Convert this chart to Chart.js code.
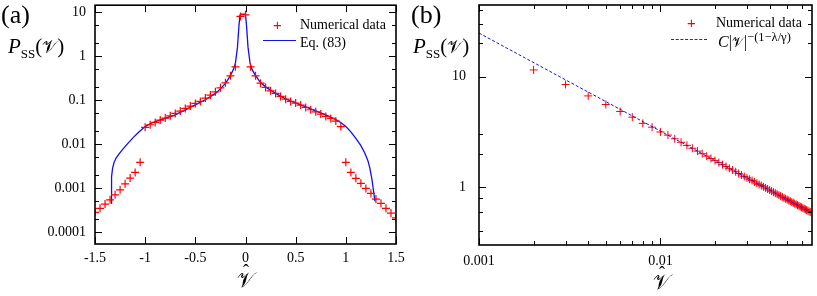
<!DOCTYPE html>
<html>
<head>
<meta charset="utf-8">
<script src="https://cdn.jsdelivr.net/npm/chart.js@4/dist/chart.umd.min.js"></script>
<style>
  html, body { margin: 0; padding: 0; background: #fff; }
  body { width: 817px; height: 296px; position: relative; overflow: hidden; font-family: "Liberation Serif", "DejaVu Serif", serif; color: #000; }
  canvas { position: absolute; top: 0; }
  #ca { left: 0; }
  #cb { left: 410px; }
  .t { position: absolute; white-space: nowrap; line-height: 1; }
  .lbl { font-size: 26px; }
  .yt { font-size: 21px; }
  .yt sub { font-size: 13px; vertical-align: -5px; }
  .cal { font-family: "DejaVu Serif", "DejaVu Sans", "Noto Sans", serif; font-style: normal; }
  .yt .cal { font-size: 18px; }
  .xt { font-size: 21px; }
  .hat { position: relative; display: inline-block; }
  .hat .h { position: absolute; left: 6px; top: -8px; font-size: 18px; font-family: "Liberation Serif", serif; }
  .leg { font-size: 14px; }
  .plus { position: absolute; color: #f00; font-family: "Liberation Sans", sans-serif; font-size: 15px; line-height: 1; }
</style>
</head>
<body>
<canvas id="ca" width="410" height="296"></canvas>
<canvas id="cb" width="407" height="296"></canvas>

<!-- panel labels and axis titles -->
<div class="t lbl" style="left:1px; top:2px;">(a)</div>
<div class="t lbl" style="left:411px; top:2px;">(b)</div>
<div class="t yt" style="left:8px; top:36px;"><i>P</i><sub>SS</sub>(<span class="cal">𝒱</span>)</div>
<div class="t yt" style="left:413px; top:36px;"><i>P</i><sub>SS</sub>(<span class="cal">𝒱</span>)</div>
<div class="t xt" style="left:237px; top:270px;"><span class="hat cal">𝒱<span class="h">ˆ</span></span></div>
<div class="t xt" style="left:653px; top:272px;"><span class="hat cal">𝒱<span class="h">ˆ</span></span></div>

<!-- legend (a) -->
<div class="plus" style="left:273px; top:17px;">+</div>
<div class="t leg" style="left:300px; top:18px;">Numerical data</div>
<div style="position:absolute; left:263px; top:40px; width:33px; border-top:1.5px solid #1010f0;"></div>
<div class="t leg" style="left:300px; top:36px;">Eq. (83)</div>

<!-- legend (b) -->
<div class="plus" style="left:687px; top:15px;">+</div>
<div class="t leg" style="left:716px; top:16px;">Numerical data</div>
<div style="position:absolute; left:671px; top:39px; width:36px; border-top:1px dashed #1a1aff;"></div>
<div class="t" style="left:718px; top:31px; font-size:16px;"><i>C</i>|<span class="cal" style="font-size:14px;">𝒱</span>|<sup style="font-size:12.5px;">−(1−λ/γ)</sup></div>

<script>
// ---------------- Panel (a) data ----------------
const aNumX = [-1.5,-1.45,-1.4,-1.35,-1.3,-1.25,-1.2,-1.15,-1.1,-1.05,
  -1.0,-0.95,-0.9,-0.85,-0.8,-0.75,-0.7,-0.65,-0.6,-0.55,-0.5,-0.45,-0.4,-0.35,-0.3,-0.25,-0.2,-0.15,-0.1,
  -0.05,0.0,
  0.05,0.1,0.15,0.2,0.25,0.3,0.35,0.4,0.45,0.5,0.55,0.6,0.65,0.7,0.75,0.8,0.85,0.9,0.95,
  1.0,1.05,1.1,1.15,1.2,1.25,1.3,1.35,1.4,1.45,1.5];
const aNumY = [2.8e-4,3.46e-4,4.33e-4,5.4e-4,7.0e-4,9.1e-4,1.25e-3,1.69e-3,2.27e-3,3.84e-3,
  0.024,0.0275,0.0311,0.0351,0.039,0.044,0.0499,0.0562,0.0648,0.0731,0.0841,0.0934,0.111,0.130,0.154,0.190,0.247,0.357,0.571,
  7.98,8.7,
  0.571,0.357,0.243,0.194,0.163,0.142,0.121,0.105,0.0933,0.0855,0.077,0.068,0.0603,0.0542,0.0481,0.0426,0.0384,0.0333,0.025,
  3.84e-3,2.27e-3,1.66e-3,1.28e-3,9.8e-4,7.6e-4,5.6e-4,4.5e-4,3.46e-4,2.7e-4,2.09e-4];
const aEqX = [-1.34,-1.337,-1.333,-1.325,-1.31,-1.29,-1.26,-1.22,-1.17,-1.12,-1.06,-1.0,-0.95,-0.9,-0.8,-0.7,-0.6,-0.5,-0.4,-0.3,-0.25,-0.2,-0.15,-0.12,-0.1,-0.08,-0.065,-0.055,-0.04,
  -0.01,0.0,0.01,0.025,0.045,0.065,0.1,0.15,0.2,0.3,0.4,0.5,0.6,0.7,0.8,0.9,0.95,1.0,1.05,1.1,1.15,1.19,1.22,1.24,1.26,1.275,1.29];
const aEqY = [4.5e-4,1.0e-3,1.8e-3,2.8e-3,3.8e-3,4.8e-3,6.0e-3,7.8e-3,0.0105,0.014,0.019,0.025,0.029,0.0325,0.0385,0.046,0.06,0.078,0.102,0.142,0.18,0.24,0.36,0.5,0.7,1.6,5,8.7,9.0,
  9.0,8.7,5,1.6,0.7,0.5,0.36,0.25,0.2,0.142,0.107,0.086,0.07,0.057,0.046,0.036,0.031,0.025,0.019,0.0135,0.0092,0.0062,0.0042,0.0028,0.0016,9e-4,5e-4];
const aXTicks = [-1.5,-1.0,-0.5,0,0.5,1.0,1.5];
const aYTicks = [0.0001,0.001,0.01,0.1,1,10];
const aYMinor = [0.00005,0.0002,0.0005,0.002,0.005,0.02,0.05,0.2,0.5,2,5];

// ---------------- Panel (b) data ----------------
const bNumX = [0.002,0.003,0.004,0.005,0.006,0.007,0.008,0.009,0.010,
  0.011,0.012,0.013,0.014,0.015,0.016,0.017,0.018,0.019,0.020,
  0.021,0.022,0.023,0.024,0.025,0.026,0.027,0.028,0.029,0.030,
  0.031,0.032,0.033,0.034,0.035,0.036,0.037,0.038,0.039,0.040,
  0.041,0.042,0.043,0.044,0.045,0.046,0.047,0.048,0.049,0.050,
  0.051,0.052,0.053,0.054,0.055,0.056,0.057,0.058,0.059,0.060,
  0.061,0.062,0.063,0.064,0.065,0.066,0.067];
const bNumY = [11.5,8.5,6.7,5.6,4.84,4.3,3.78,3.49,3.16,
  2.96,2.74,2.55,2.39,2.25,2.12,2.01,1.91,1.82,1.74,
  1.67,1.60,1.54,1.48,1.43,1.38,1.33,1.29,1.25,1.216,
  1.18,1.148,1.116,1.087,1.06,1.034,1.009,0.985,0.963,0.941,
  0.921,0.902,0.883,0.865,0.848,0.832,0.816,0.801,0.786,0.772,
  0.759,0.746,0.734,0.722,0.710,0.699,0.688,0.677,0.667,0.657,
  0.647,0.638,0.629,0.620,0.612,0.604,0.596];
const bFitX = [0.001,0.0685];
const bFitY = [24.8,0.584];
const bXTicks = [0.001,0.01];
const bXMinor = [0.002,0.003,0.004,0.005,0.006,0.007,0.008,0.009,0.02,0.03,0.04,0.05,0.06];
const bYTicks = [1,10];
const bYMinor = [0.4,0.6,0.8,2,3,20,30,40];

const RED = 'rgb(255,0,0)';
const BLUE = '#1010f0';
const FONT = { family: "'Liberation Serif', 'DejaVu Serif', serif", size: 14 };
const GRID = { display: false, drawTicks: false, tickLength: 0 };

const frameTicks = {
  id: 'frameTicks',
  afterDatasetsDraw(chart, args, o) {
    const { ctx, chartArea: a, scales } = chart;
    const xs = scales.x, ys = scales.y;
    ctx.save();
    ctx.strokeStyle = '#000';
    ctx.lineWidth = 1;
    const seg = (x1, y1, x2, y2) => { ctx.beginPath(); ctx.moveTo(x1, y1); ctx.lineTo(x2, y2); ctx.stroke(); };
    const xt = (vals, len) => vals.forEach(v => {
      const p = Math.round(xs.getPixelForValue(v)) + 0.5;
      if (p < a.left - 1 || p > a.right + 1) return;
      seg(p, a.bottom, p, a.bottom - len); seg(p, a.top, p, a.top + len);
    });
    const yt = (vals, len) => vals.forEach(v => {
      const p = Math.round(ys.getPixelForValue(v)) + 0.5;
      if (p < a.top - 1 || p > a.bottom + 1) return;
      seg(a.left, p, a.left + len, p); seg(a.right, p, a.right - len, p);
    });
    xt(o.xMajor, 7); xt(o.xMinor || [], 4);
    yt(o.yMajor, 7); yt(o.yMinor || [], 4);
    ctx.lineWidth = 1.6;
    ctx.strokeRect(a.left, a.top, a.right - a.left, a.bottom - a.top);
    ctx.restore();
  }
};

function fmt(v) { return String(v); }
function fixBox(w, h) {
  return s => {
    if (w !== null) s.width = w;
    if (h !== null) s.height = h;
    s.paddingLeft = 0; s.paddingRight = 0; s.paddingTop = 0; s.paddingBottom = 0;
  };
}

// ---------------- Chart (a) ----------------
new Chart(document.getElementById('ca'), {
  type: 'scatter',
  data: {
    datasets: [
      { label: 'Eq. (83)', data: aEqX.map((x, i) => ({ x, y: aEqY[i] })), showLine: true,
        borderColor: BLUE, borderWidth: 1.3, pointRadius: 0, tension: 0, order: 2 },
      { label: 'Numerical data', data: aNumX.map((x, i) => ({ x, y: aNumY[i] })),
        pointStyle: 'cross', pointRadius: 4, borderColor: RED, backgroundColor: RED, borderWidth: 1.2, order: 1 }
    ]
  },
  options: {
    responsive: false, animation: false, devicePixelRatio: 1,
    layout: { padding: { left: 0, top: 5, right: 14, bottom: 0 } },
    plugins: { legend: { display: false }, tooltip: { enabled: false },
      frameTicks: { xMajor: aXTicks, yMajor: aYTicks, yMinor: aYMinor } },
    scales: {
      x: { type: 'linear', min: -1.5, max: 1.5,
        grid: GRID, border: { display: false },
        afterBuildTicks: s => { s.ticks = aXTicks.map(v => ({ value: v })); },
        afterFit: fixBox(null, 52),
        ticks: { font: FONT, color: '#000', padding: 6, autoSkip: false, maxRotation: 0, callback: v => fmt(v) } },
      y: { type: 'logarithmic', min: 5.34e-5, max: 14.4,
        grid: GRID, border: { display: false },
        afterBuildTicks: s => { s.ticks = aYTicks.map(v => ({ value: v })); },
        afterFit: fixBox(95, null),
        ticks: { font: FONT, color: '#000', padding: 9, autoSkip: false, callback: v => fmt(v) } }
    }
  },
  plugins: [frameTicks]
});

// ---------------- Chart (b) ----------------
new Chart(document.getElementById('cb'), {
  type: 'scatter',
  data: {
    datasets: [
      { label: 'C|V|^-(1-λ/γ)', data: bFitX.map((x, i) => ({ x, y: bFitY[i] })), showLine: true,
        borderColor: BLUE, borderWidth: 1, borderDash: [3, 2], pointRadius: 0, order: 1 },
      { label: 'Numerical data', data: bNumX.map((x, i) => ({ x, y: bNumY[i] })),
        pointStyle: 'cross', pointRadius: 4, borderColor: RED, backgroundColor: RED, borderWidth: 1, order: 2 }
    ]
  },
  options: {
    responsive: false, animation: false, devicePixelRatio: 1,
    layout: { padding: { left: 0, top: 5, right: 2, bottom: 0 } },
    plugins: { legend: { display: false }, tooltip: { enabled: false },
      frameTicks: { xMajor: bXTicks, xMinor: bXMinor, yMajor: bYTicks, yMinor: bYMinor } },
    scales: {
      x: { type: 'logarithmic', min: 0.001, max: 0.0685,
        grid: GRID, border: { display: false },
        afterBuildTicks: s => { s.ticks = bXTicks.map(v => ({ value: v })); },
        afterFit: fixBox(null, 51),
        ticks: { font: FONT, color: '#000', padding: 8, autoSkip: false, maxRotation: 0, callback: v => fmt(v) } },
      y: { type: 'logarithmic', min: 0.306, max: 44.5,
        grid: GRID, border: { display: false },
        afterBuildTicks: s => { s.ticks = bYTicks.map(v => ({ value: v })); },
        afterFit: fixBox(69, null),
        ticks: { font: FONT, color: '#000', padding: 13, autoSkip: false, callback: v => fmt(v) } }
    }
  },
  plugins: [frameTicks]
});
</script>
</body>
</html>
